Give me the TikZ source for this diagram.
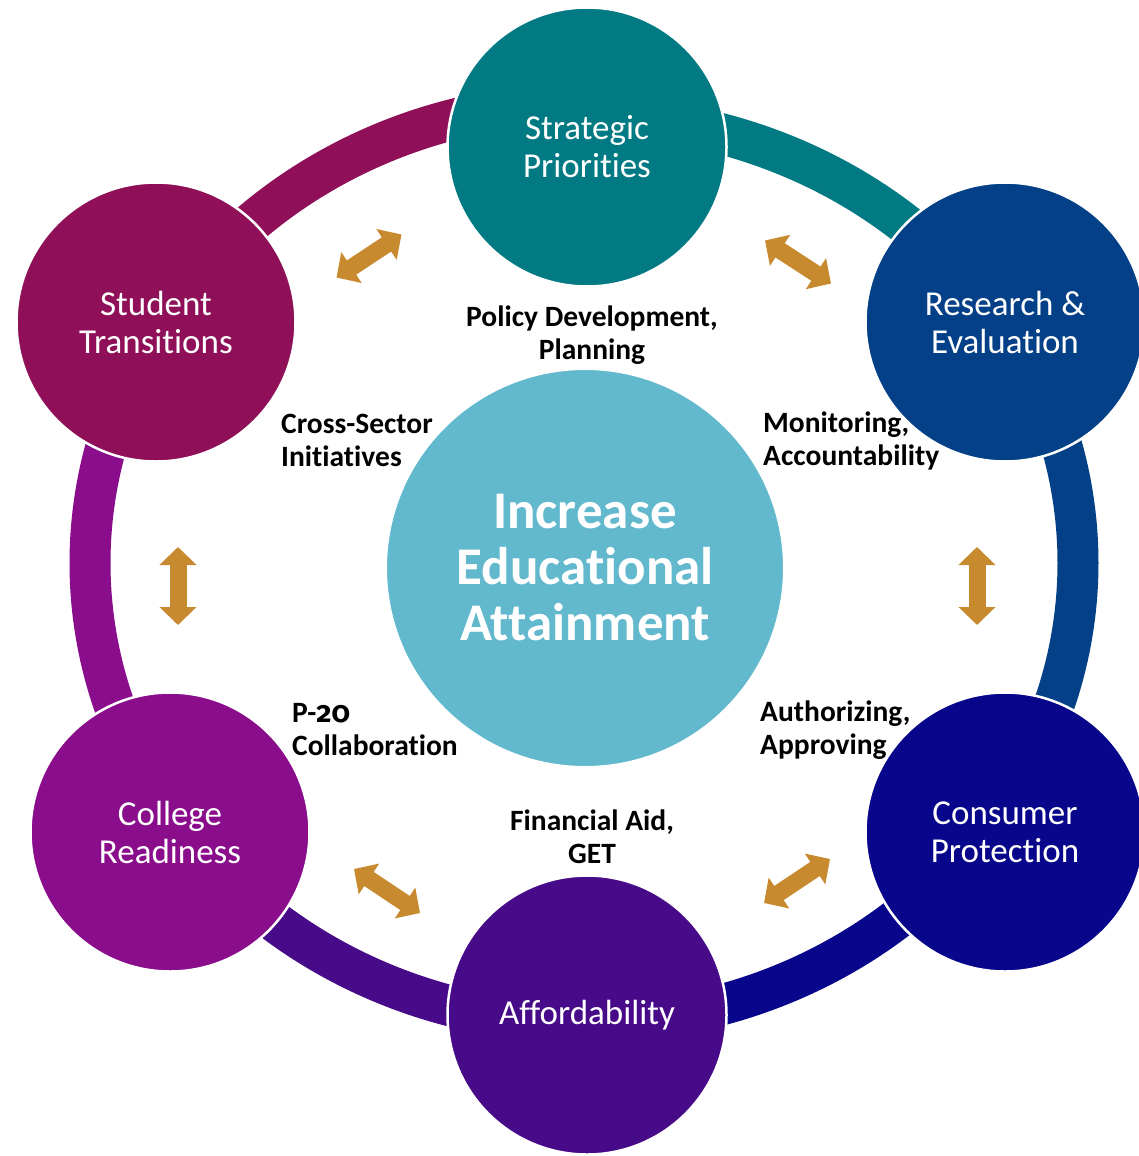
\documentclass[tikz,border=0pt]{standalone}
\usepackage{fontspec}
\setmainfont{Carlito}[Ligatures=NoCommon]
\newfontfamily\oldnum{Fira Sans}[Numbers=OldStyle]
\usetikzlibrary{arrows.meta}
\definecolor{cTeal}{HTML}{027A83}
\definecolor{cBlue}{HTML}{044087}
\definecolor{cNavy}{HTML}{08068A}
\definecolor{cPurple}{HTML}{470A88}
\definecolor{cViolet}{HTML}{8A0D8C}
\definecolor{cMagenta}{HTML}{8F1058}
\definecolor{cCenter}{HTML}{62B8CD}
\definecolor{cGold}{HTML}{C78A2E}
\tikzset{
  ring/.style={line width=41pt},
  bubble/.style={circle, draw=white, line width=2.5pt, minimum size=279pt, inner sep=0pt,
    text=white, font=\fontsize{35}{38}\selectfont, align=center},
  hub/.style={circle, draw=white, line width=2pt, fill=cCenter, minimum size=398pt, inner sep=0pt,
    text=white, font=\bfseries\fontsize{53}{56}\selectfont, align=center},
  lbl/.style={font=\bfseries\fontsize{29.5}{33}\selectfont, text=black, inner sep=0pt},
  dbl/.style={cGold, line width=17pt, {Triangle[length=18pt,width=36pt]}-{Triangle[length=18pt,width=36pt]}}
}
\begin{document}
\begin{tikzpicture}[x=1pt,y=-1pt]
\useasboundingbox (0,0) rectangle (1138,1156);
% ring segments
\draw[ring, cMagenta] (584,563) ++(-148:494 and 460) arc[start angle=-148, end angle=-90, x radius=494, y radius=460];
\draw[ring, cTeal] (584,566) ++(-90:494 and 450) arc[start angle=-90, end angle=-31, x radius=494, y radius=450];
\draw[ring, cBlue] (584,563) ++(-31:494 and 460) arc[start angle=-31, end angle=34, x radius=494, y radius=460];
\draw[ring, cNavy] (584,563) ++(34:494 and 460) arc[start angle=34, end angle=90, x radius=494, y radius=460];
\draw[ring, cPurple] (584,563) ++(90:494 and 460) arc[start angle=90, end angle=146, x radius=494, y radius=460];
\draw[ring, cViolet] (584,563) ++(146:494 and 460) arc[start angle=146, end angle=212, x radius=494, y radius=460];
% outer circles
\node[bubble, fill=cTeal] (strat) at (587,147) {Strategic\\Priorities};
\node[bubble, fill=cBlue] (research) at (1005,322) {Research \&\\Evaluation};
\node[bubble, fill=cNavy] (consumer) at (1005,832) {Consumer\\Protection};
\node[bubble, fill=cPurple] (afford) at (587,1015) {Affordability};
\node[bubble, fill=cViolet] (college) at (170,832) {College\\Readiness};
\node[bubble, fill=cMagenta] (student) at (156,322) {Student\\Transitions};
% hub
\node[hub] (hub) at (585,568) {Increase\\Educational\\Attainment};
% labels
\node[lbl, align=center] (policy) at (592,335) {Policy Development,\\Planning};
\node[lbl, align=left, anchor=west] (cross) at (281,440) {Cross-Sector\\Initiatives};
\node[lbl, align=left, anchor=west] (monitor) at (763,441) {Monitoring,\\Accountability};
\node[lbl, align=left, anchor=west] (p20) at (292,730) {P-{\oldnum 20}\\Collaboration};
\node[lbl, align=left, anchor=west] (authorize) at (760,730) {Authorizing,\\Approving};
\node[lbl, align=center] (finaid) at (592,837) {Financial Aid,\\GET};
% double arrows
\coordinate (a1s) at (336.5,277.5); \coordinate (a1e) at (401.5,234.5);
\coordinate (a2s) at (765,240.5);   \coordinate (a2e) at (831,283.5);
\coordinate (a3s) at (764,903);     \coordinate (a3e) at (830,859);
\coordinate (a4s) at (354,869);     \coordinate (a4e) at (420,913);
\coordinate (a5s) at (977,547);     \coordinate (a5e) at (977,625);
\coordinate (a6s) at (178,547);     \coordinate (a6e) at (178,625);
\draw[dbl] (a1s) -- (a1e);
\draw[dbl] (a2s) -- (a2e);
\draw[dbl] (a3s) -- (a3e);
\draw[dbl] (a4s) -- (a4e);
\draw[dbl] (a5s) -- (a5e);
\draw[dbl] (a6s) -- (a6e);
\end{tikzpicture}
\end{document}
